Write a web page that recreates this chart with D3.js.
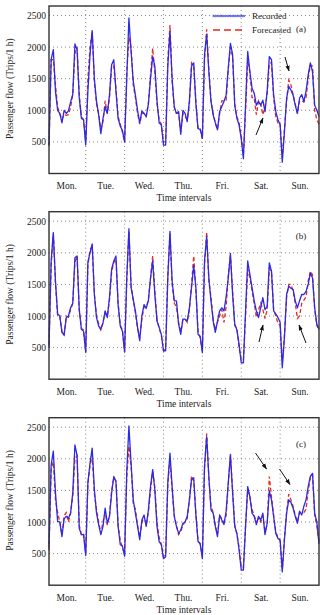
<!DOCTYPE html>
<html><head><meta charset="utf-8">
<script src="https://cdn.jsdelivr.net/npm/d3@7"></script>
<style>body{margin:0;background:#fff}svg{display:block}text{font-family:"Liberation Serif","DejaVu Serif",serif;fill:#222}</style>
</head><body><svg id="c" width="320" height="615"></svg>
<script>
const days = ["Mon.","Tue.","Wed.","Thu.","Fri.","Sat.","Sun."];
const yTicks = [500,1000,1500,2000,2500];
const panelTags = ["(a)","(b)","(c)"];
const seriesNames = ["Recorded","Forecasted"];

const recordedA = [
 450,1800,1960,1300,1000,950,800,1000,950,990,1130,1250,2050,1960,1200,870,850,450,
 1300,1880,2260,1500,1140,925,630,870,1060,950,1240,1720,1800,1300,870,750,680,500,
 1500,2460,1930,1460,1240,1000,800,990,950,900,1100,1500,1850,1700,1150,800,770,450,
 450,1700,2250,1500,1050,950,980,620,1000,950,820,1150,1700,1750,1100,710,700,560,
 1880,2200,1610,1140,925,800,690,980,1060,1140,1240,1670,2060,1880,1080,870,770,550,
 235,1080,1930,1610,1350,1270,1080,1140,1080,1160,980,1300,1850,1800,1240,980,850,770,
 180,660,1190,1380,1320,1240,1080,950,1190,1250,1140,1300,1560,1750,1610,1080,1000,900];
const forecastA = [
 430,1800,1800,1400,1050,950,850,930,920,930,1050,1250,1900,2000,1250,900,850,500,
 1500,2000,2250,1450,1100,950,700,820,1150,950,1200,1700,1700,1350,900,780,650,500,
 1600,2150,2000,1400,1200,950,780,950,950,900,1100,1550,1980,1600,1100,850,780,500,
 500,1800,2350,1450,1050,950,950,650,950,900,850,1100,1750,1700,1150,700,700,550,
 1800,2280,1650,1150,950,800,700,950,1150,1150,1150,1650,2000,1850,1100,900,800,600,
 300,1000,1800,1600,1200,1200,930,1150,1100,930,1050,1250,1750,1750,1200,900,800,800,
 250,700,1150,1480,1400,1250,1100,950,1150,1150,1130,1200,1500,1720,1700,1000,850,780];

const recordedB = [
 500,1870,2320,1550,1030,1000,740,700,975,1000,1130,1200,1920,1950,1100,790,760,430,
 1850,2000,2140,1340,975,840,790,890,1080,975,1290,1740,1870,1950,1180,840,760,430,
 1600,2380,1450,1260,1080,820,610,1000,1180,1120,1240,1600,1870,1340,920,820,710,450,
 450,1600,2340,1550,1240,1240,870,710,950,950,920,1130,1450,1800,1450,710,680,420,
 1870,2260,1600,1240,920,740,920,1080,1130,1080,1300,1600,1990,1340,870,780,550,260,
 260,1080,1870,1660,1450,1240,1080,975,1130,1290,1100,1150,1840,1710,1080,1030,975,900,
 180,660,1340,1470,1440,1420,1240,1130,1240,1340,1340,1390,1500,1680,1600,1130,870,790];
const forecastB = [
 550,1800,2300,1500,1000,1000,750,700,1000,980,1100,1200,1850,1950,1100,800,780,420,
 1800,2050,2100,1350,1000,880,780,900,1050,1000,1250,1700,1850,1900,1200,850,780,430,
 1550,2350,1500,1250,1050,800,650,950,1150,1150,1250,1600,1950,1400,950,800,700,450,
 500,1650,2300,1500,1200,1150,900,750,950,950,900,1100,1500,1950,1400,750,650,450,
 1800,2330,1550,1300,950,780,900,1000,1100,900,1150,1650,1950,1400,850,800,500,300,
 300,1000,1750,1600,1400,1200,980,1100,1200,1100,960,1100,1750,1700,1100,1000,880,850,
 250,700,1300,1500,1500,1400,1200,960,1000,1200,1250,1300,1550,1710,1650,1100,850,780];

const recordedC = [
 600,1900,2120,1460,1010,1000,770,1050,1090,1060,1140,1460,2220,2050,900,800,800,470,
 1620,1930,2170,1510,1140,960,800,930,1220,980,1090,1460,1720,1640,930,640,620,460,
 1800,2520,1930,1350,1140,930,720,1030,1110,930,1190,1560,1830,1510,930,690,640,420,
 450,1620,2090,1560,1090,930,820,870,980,1000,1090,1350,1670,1700,1110,690,660,420,
 1880,2350,1720,1190,1140,930,770,1110,1030,960,1170,1620,2070,1460,930,820,560,240,
 240,930,1560,1400,1140,1090,960,1090,1030,1140,800,980,1490,1350,1090,820,740,720,
 210,720,1140,1350,1310,1220,1090,980,1170,1110,1250,1350,1560,1720,1770,1140,1000,650];
const forecastC = [
 550,1850,1950,1350,1150,1000,800,1100,1150,1000,1150,1400,2000,2050,950,800,820,500,
 1600,1900,2050,1450,1200,1000,820,1000,1150,950,1100,1500,1700,1650,950,700,600,480,
 1700,2200,1900,1300,1200,950,760,980,1100,950,1150,1500,1800,1550,1000,750,650,450,
 500,1600,2000,1500,1100,950,800,850,950,1000,1050,1350,1730,1650,1150,700,650,450,
 1850,2400,1700,1250,1150,950,800,1100,1050,1000,1100,1600,2050,1500,950,800,600,280,
 280,950,1500,1400,1200,1100,1000,1050,1000,1100,850,950,1720,1400,1100,850,750,700,
 250,750,1150,1440,1350,1250,1100,1000,1150,1150,1150,1200,1500,1700,1750,1100,950,700];

const panels = [
  {rec: recordedA, fc: forecastA, tag: panelTags[0], top: 6, tagY: 26, xlabY: 27,
   arrows: [[285,57,289,71],[256,135,263,118]]},
  {rec: recordedB, fc: forecastB, tag: panelTags[1], top: 211.7, tagY: 27, xlabY: 27.5,
   arrows: [[259,342,263,325],[306,343,299,325]]},
  {rec: recordedC, fc: forecastC, tag: panelTags[2], top: 417.7, tagY: 29, xlabY: 27.8,
   arrows: [[255.5,453,266.5,469],[279.5,469,290,484.5]]}
];

const svg = d3.select("#c");
const defs = svg.append("defs");
defs.append("marker").attr("id","ah").attr("viewBox","0 0 10 10").attr("refX",9).attr("refY",5)
  .attr("markerWidth",6).attr("markerHeight",6).attr("orient","auto")
  .append("path").attr("d","M0,1.5L10,5L0,8.5z").attr("fill","#111");

const left = 49, right = 319, H = 167.5;
const BLUE = "#2a2ae8", RED = "#e8281e";

panels.forEach((p, pi) => {
  const g = svg.append("g").attr("transform", `translate(0,${p.top})`);
  const x = d3.scaleLinear().domain([1, 126]).range([left, right]);
  const y = d3.scaleLinear().domain([0, 2650]).range([H, 0]);

  const grid = g.append("g").attr("stroke","#7a7a7a").attr("stroke-width",0.9).attr("stroke-dasharray","1,3");
  yTicks.forEach(v => grid.append("line").attr("x1",left).attr("x2",right).attr("y1",y(v)).attr("y2",y(v)));
  d3.range(1,7).forEach(d => grid.append("line").attr("x1",x(18*d)).attr("x2",x(18*d)).attr("y1",0).attr("y2",H));

  const ya = g.append("g").attr("transform",`translate(${left},0)`)
    .call(d3.axisLeft(y).tickValues(yTicks).tickSize(0).tickPadding(3).tickFormat(d3.format("d")));
  ya.select(".domain").remove();
  ya.selectAll("text").style("font-family",'"Liberation Serif",serif').style("font-size","9.5px").attr("fill","#222");

  const xa = g.append("g").attr("transform",`translate(0,${H})`)
    .call(d3.axisBottom(x).tickValues(days.map((d,i)=>18*i+9)).tickSize(0).tickPadding(9).tickFormat((d,i)=>days[i]));
  xa.select(".domain").remove();
  xa.selectAll("text").style("font-family",'"Liberation Serif",serif').style("font-size","9.5px").attr("fill","#222");

  g.append("text").attr("x",(left+right)/2).attr("y",H+p.xlabY).attr("text-anchor","middle")
    .style("font-size","9.5px").text("Time intervals");
  g.append("text").attr("transform",`translate(13,${H/2-1}) rotate(-90)`).attr("text-anchor","middle")
    .style("font-size","9.5px").text("Passenger flow (Trips/1 h)");

  const line = d3.line().x((d,i)=>x(i+1)).y(d=>y(d));
  g.append("path").datum(p.fc).attr("d",line).attr("fill","none").attr("stroke",RED)
    .attr("stroke-width",1.3).attr("stroke-dasharray","4,2.5");
  g.append("path").datum(p.rec).attr("d",line).attr("fill","none").attr("stroke",BLUE)
    .attr("stroke-width",1.3).attr("stroke-linejoin","round");

  g.append("rect").attr("x",left).attr("y",0).attr("width",right-left).attr("height",H)
    .attr("fill","none").attr("stroke","#333").attr("stroke-width",1.4);

  g.append("text").attr("x",301).attr("y",p.tagY).attr("text-anchor","middle")
    .style("font-size","9px").text(p.tag);

  p.arrows.forEach(a => {
    svg.append("line").attr("x1",a[0]).attr("y1",a[1]).attr("x2",a[2]).attr("y2",a[3])
      .attr("stroke","#111").attr("stroke-width",1).attr("marker-end","url(#ah)");
  });

  if (pi === 0) {
    const lg = g.append("g");
    const lx1 = 213, lx2 = 245;
    lg.append("line").attr("x1",lx1).attr("x2",lx2).attr("y1",10).attr("y2",10)
      .attr("stroke",BLUE).attr("stroke-width",1.3);
    d3.range(lx1, lx2+0.1, 2.5).forEach(t => lg.append("line").attr("x1",t).attr("x2",t)
      .attr("y1",8.6).attr("y2",11.4).attr("stroke","#7a7af0").attr("stroke-width",0.8));
    lg.append("line").attr("x1",lx1).attr("x2",lx2).attr("y1",24).attr("y2",24)
      .attr("stroke",RED).attr("stroke-width",1.3).attr("stroke-dasharray","7,4");
    lg.append("text").attr("x",252).attr("y",13).style("font-size","9px").text(seriesNames[0]);
    lg.append("text").attr("x",252).attr("y",27).style("font-size","9px").text(seriesNames[1]);
  }
});
</script></body></html>
